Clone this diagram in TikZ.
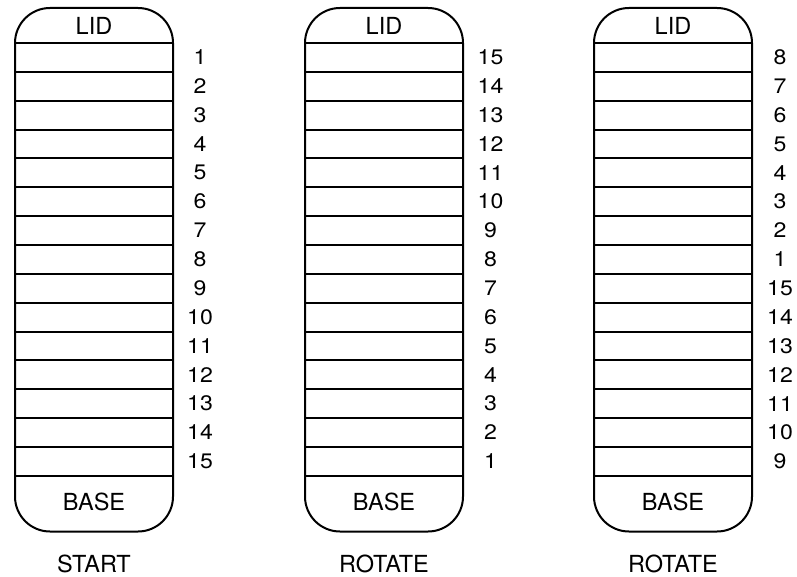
\documentclass[tikz,border=0pt]{standalone}
\usepackage{fontspec}
\setmainfont{TeX Gyre Heros}
\begin{document}
\begin{tikzpicture}[x=1pt,y=-1pt,
  colbox/.style={draw, line width=2pt, rounded corners=35pt},
  slat/.style={line width=2pt},
  lbl/.style={font=\fontsize{23.5}{23.5}\selectfont, inner sep=0pt},
  num/.style={font=\fontsize{21}{21}\selectfont, inner sep=0pt, xscale=1.1}]
\useasboundingbox (0,0) rectangle (797,577);
% column 1
\draw[colbox] (15,8) rectangle (173,531.5);
\foreach \k in {0,...,15} \draw[slat] (15,{43+\k*28.85}) -- (173,{43+\k*28.85});
\foreach \n [count=\k from 0] in {1,2,3,4,5,6,7,8,9,10,11,12,13,14,15}
  \node[num] (a\k) at (200,{43+(\k+0.5)*28.85}) {\n};
\node[lbl] (lidA) at (94,26) {LID};
\node[lbl] (baseA) at (94,502) {BASE};
\node[lbl] (capA) at (94,564) {START};
% column 2
\draw[colbox] (305,8) rectangle (463,531.5);
\foreach \k in {0,...,15} \draw[slat] (305,{43+\k*28.85}) -- (463,{43+\k*28.85});
\foreach \n [count=\k from 0] in {15,14,13,12,11,10,9,8,7,6,5,4,3,2,1}
  \node[num] (b\k) at (490.5,{43+(\k+0.5)*28.85}) {\n};
\node[lbl] (lidB) at (384,26) {LID};
\node[lbl] (baseB) at (384,502) {BASE};
\node[lbl] (capB) at (384,564) {ROTATE};
% column 3
\draw[colbox] (594,8) rectangle (752,531.5);
\foreach \k in {0,...,15} \draw[slat] (594,{43+\k*28.85}) -- (752,{43+\k*28.85});
\foreach \n [count=\k from 0] in {8,7,6,5,4,3,2,1,15,14,13,12,11,10,9}
  \node[num] (c\k) at (780,{43+(\k+0.5)*28.85}) {\n};
\node[lbl] (lidC) at (673,26) {LID};
\node[lbl] (baseC) at (673,502) {BASE};
\node[lbl] (capC) at (673,564) {ROTATE};
\end{tikzpicture}
\end{document}
